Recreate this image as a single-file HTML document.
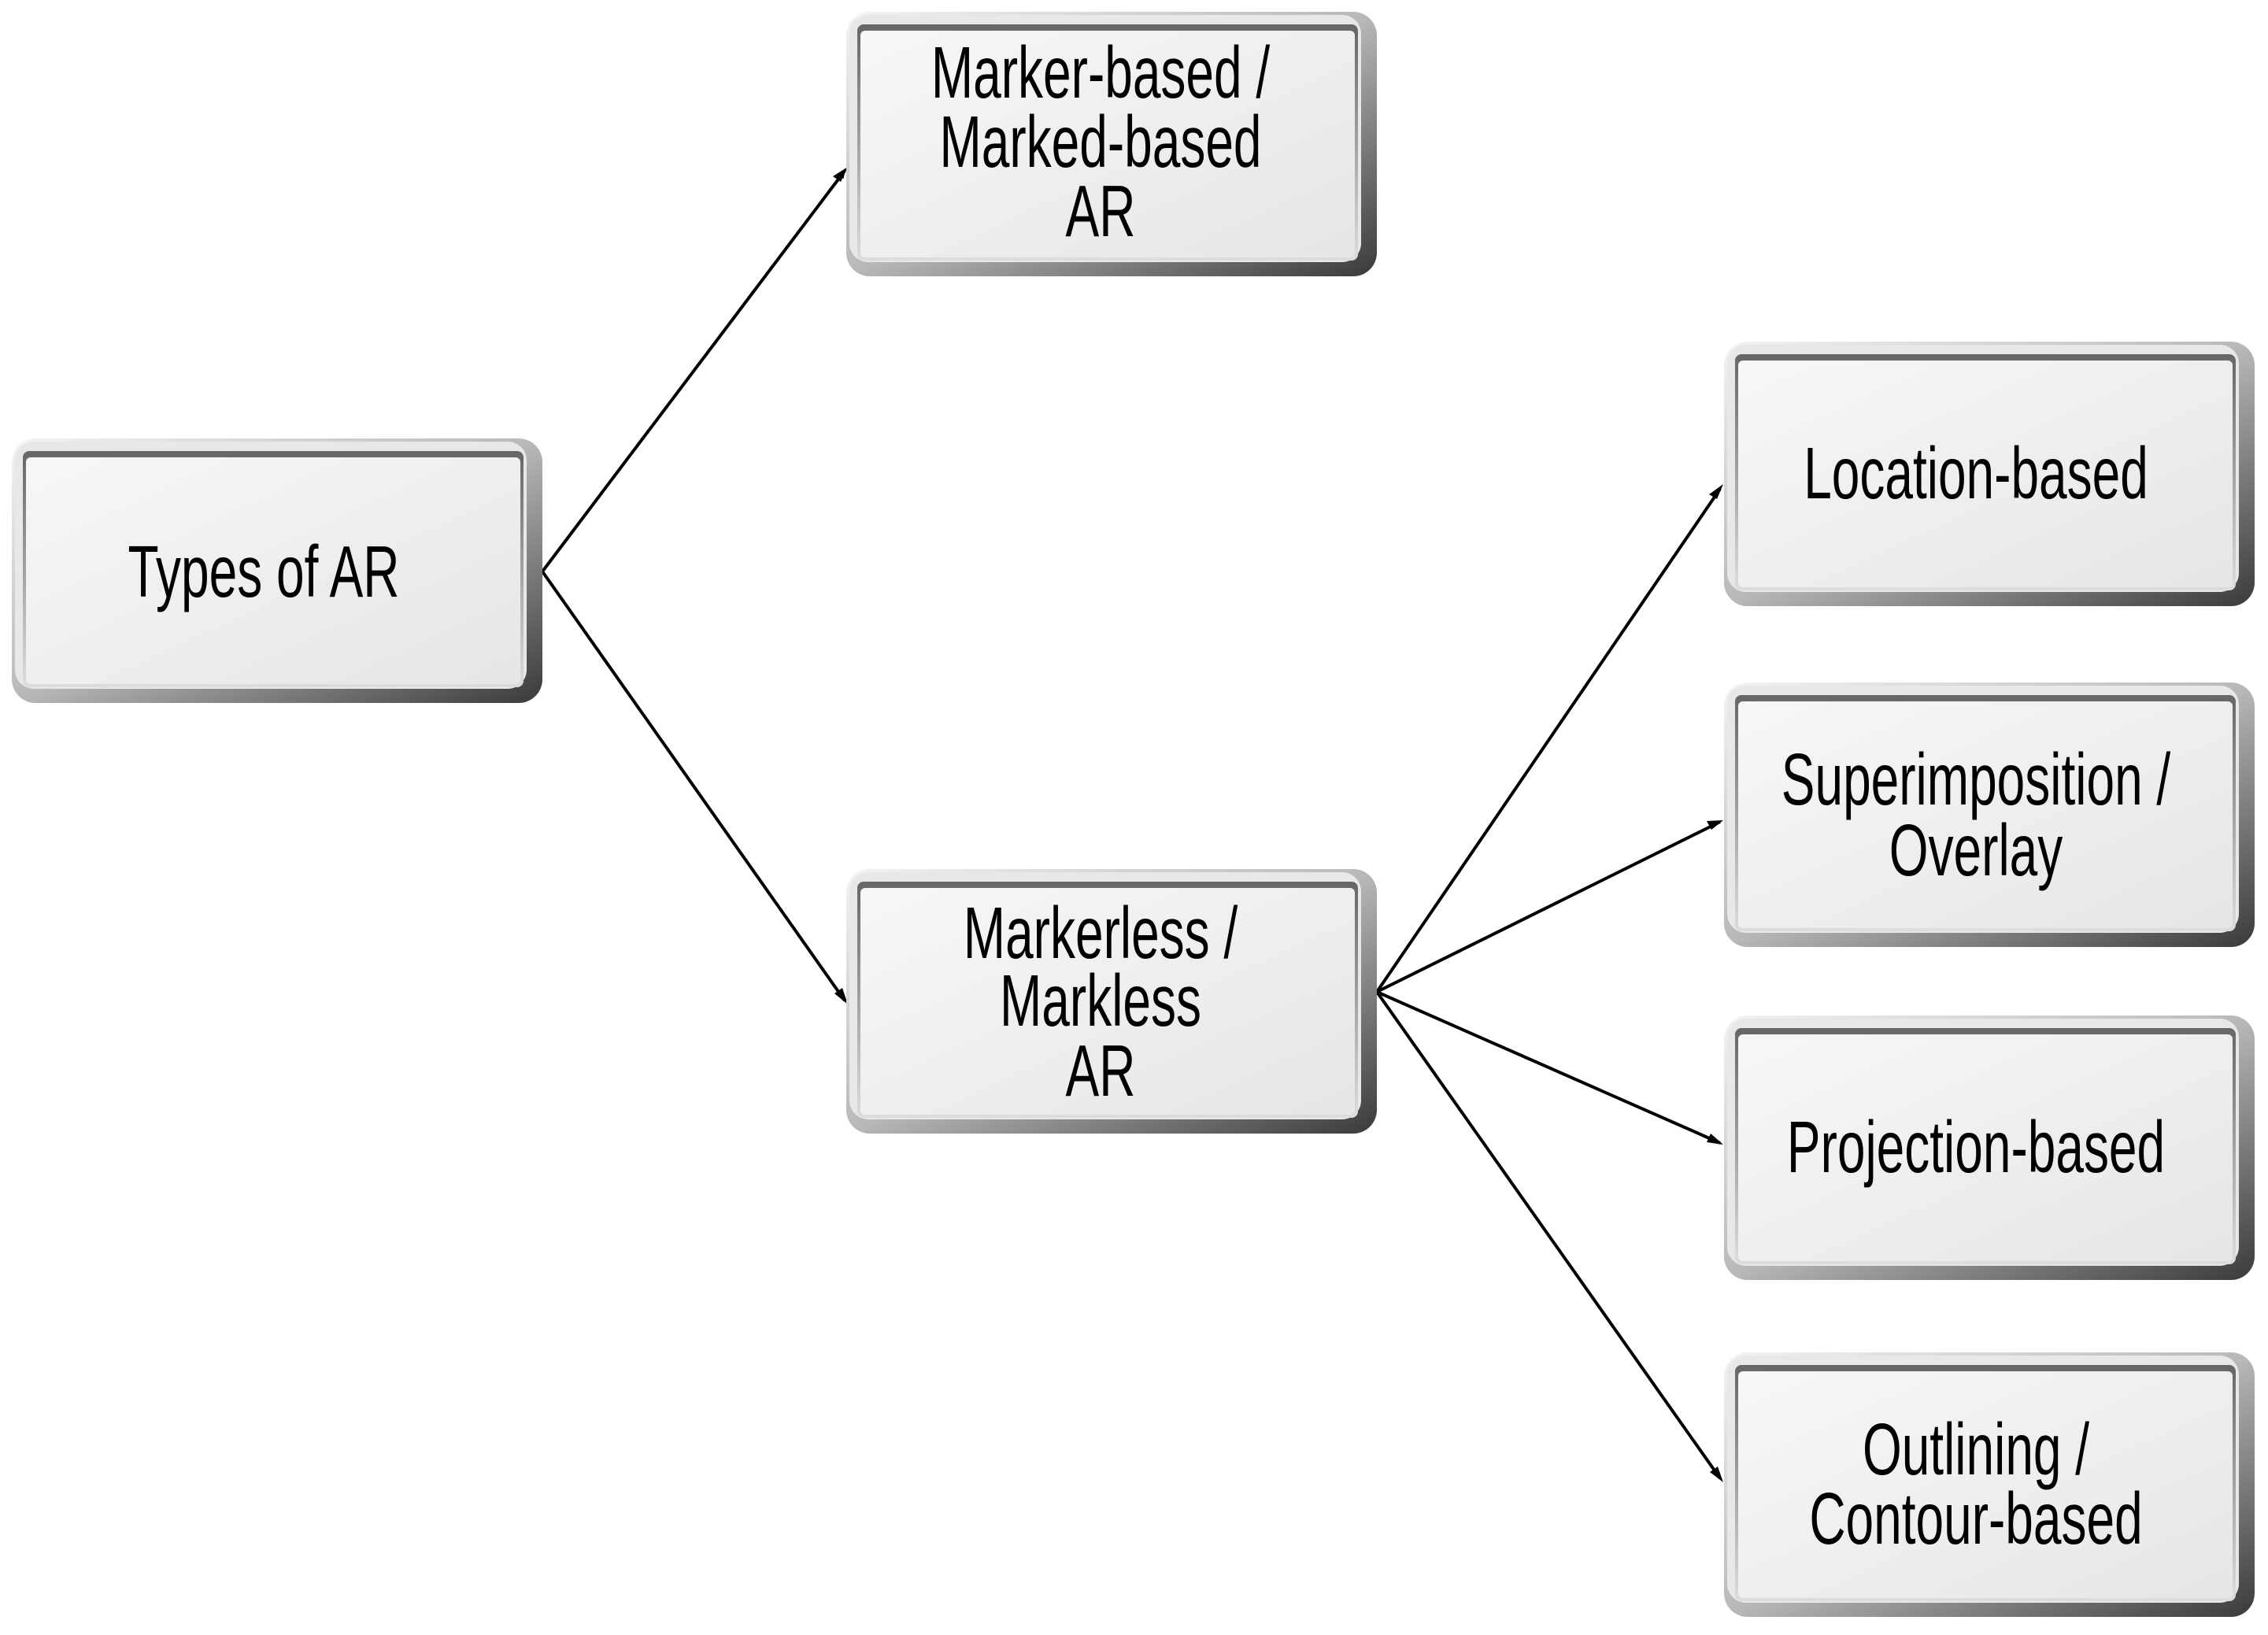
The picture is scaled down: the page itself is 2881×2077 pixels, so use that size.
<!DOCTYPE html>
<html><head><meta charset="utf-8"><style>
html,body{margin:0;padding:0;background:#fff}
svg{display:block}
text{font-family:"Liberation Sans",sans-serif;font-size:64px;fill:#000;text-anchor:middle;dominant-baseline:central}
</style></head><body>
<svg width="2881" height="2077" viewBox="0 0 2881 2077" xmlns="http://www.w3.org/2000/svg">
<defs>
<linearGradient id="fr" x1="0" y1="0" x2="1" y2="1">
<stop offset="0" stop-color="#f4f4f4"/><stop offset="0.5" stop-color="#b8b8b8"/><stop offset="1" stop-color="#3a3a3a"/>
</linearGradient>
<linearGradient id="inr" x1="0" y1="0" x2="1" y2="1">
<stop offset="0" stop-color="#f7f7f7"/><stop offset="1" stop-color="#e6e6e6"/>
</linearGradient>
<linearGradient id="edge" x1="0" y1="0" x2="0" y2="1">
<stop offset="0" stop-color="#666"/><stop offset="1" stop-color="#ddd"/>
</linearGradient>
<marker id="ah" markerWidth="10" markerHeight="10" refX="9" refY="5" orient="auto" markerUnits="userSpaceOnUse" viewBox="0 0 10 10">
<path d="M0,0 L10,5 L0,10 z" fill="#000"/>
</marker>
<g id="box">
<rect x="0" y="0" width="674" height="336" rx="30" fill="url(#fr)"/>
<rect x="4" y="4" width="650" height="314" rx="24" fill="#e8e8e8"/>
<rect x="14" y="16" width="636" height="300" rx="8" fill="url(#edge)"/>
<rect x="18" y="24" width="628" height="288" rx="6" fill="url(#inr)"/>
</g>
</defs>
<g stroke="#000" stroke-width="4" fill="none">
<line x1="689" y1="726" x2="1073" y2="217" marker-end="url(#ah)" stroke-width="4"/>
<line x1="689" y1="726" x2="1073" y2="1271"/>
<line x1="1749" y1="1260" x2="2185" y2="621"/>
<line x1="1749" y1="1260" x2="2185" y2="1044"/>
<line x1="1749" y1="1260" x2="2185" y2="1452"/>
<line x1="1749" y1="1260" x2="2185" y2="1878"/>
</g>
<g fill="#000">
<path d="M1077,212 L1058,224 L1068,231 z"/>
<path d="M1077,1276 L1060,1262 L1070,1255 z"/>
<path d="M2189,615 L2171,628 L2181,634 z"/>
<path d="M2189,1042 L2168,1043 L2174,1054 z"/>
<path d="M2189,1454 L2173,1440 L2168,1451 z"/>
<path d="M2189,1883 L2182,1863 L2172,1870 z"/>
</g>
<use href="#box" x="15" y="557"/>
<use href="#box" x="1075" y="15"/>
<use href="#box" x="1075" y="1104"/>
<use href="#box" x="2190" y="434"/>
<use href="#box" x="2190" y="867"/>
<use href="#box" x="2190" y="1290"/>
<use href="#box" x="2190" y="1718"/>
<g transform="translate(335,726) scale(1,1.45)"><text>Types of AR</text></g>
<g transform="translate(1398,92) scale(1,1.45)"><text>Marker-based /</text></g>
<g transform="translate(1398,180) scale(1,1.45)"><text>Marked-based</text></g>
<g transform="translate(1398,268) scale(1,1.45)"><text>AR</text></g>
<g transform="translate(1398,1185) scale(1,1.45)"><text>Markerless /</text></g>
<g transform="translate(1398,1271) scale(1,1.45)"><text>Markless</text></g>
<g transform="translate(1398,1360) scale(1,1.45)"><text>AR</text></g>
<g transform="translate(2510,601) scale(1,1.45)"><text>Location-based</text></g>
<g transform="translate(2510,990) scale(1,1.45)"><text>Superimposition /</text></g>
<g transform="translate(2510,1080) scale(1,1.45)"><text>Overlay</text></g>
<g transform="translate(2510,1457) scale(1,1.45)"><text>Projection-based</text></g>
<g transform="translate(2510,1841) scale(1,1.45)"><text>Outlining /</text></g>
<g transform="translate(2510,1929) scale(1,1.45)"><text>Contour-based</text></g>
</svg>
</body></html>
